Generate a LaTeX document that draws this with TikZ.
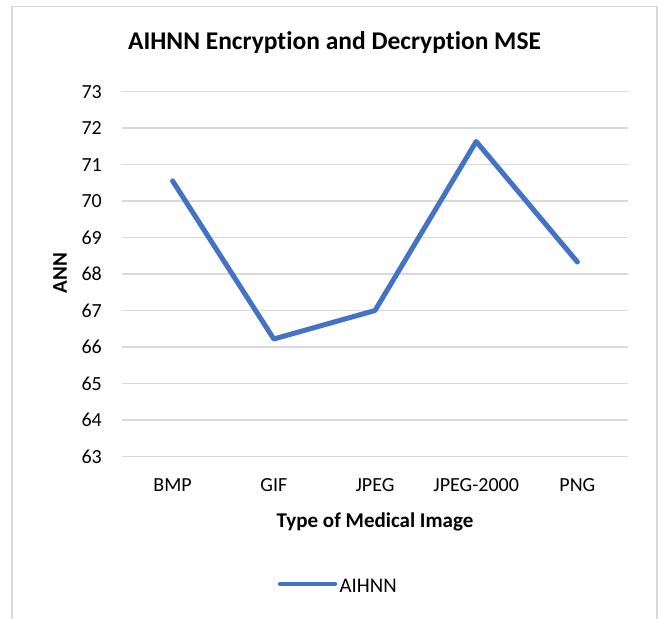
\documentclass[tikz,border=0pt]{standalone}
\usepackage{fontspec}
\setmainfont{Carlito}[Ligatures={NoCommon,NoRequired,NoContextual,NoRare},RawFeature={-liga;-clig;-dlig}]
\definecolor{serie}{HTML}{4472C4}
\definecolor{grid}{HTML}{D9D9D9}
\definecolor{txt}{HTML}{000000}
\tikzset{
  gridline/.style={draw=grid, line width=1.4pt},
  ticklab/.style={font=\fontsize{20}{24}\selectfont, text=txt, inner sep=0pt},
  axtitle/.style={font=\fontsize{21}{25}\selectfont\bfseries, text=txt, inner sep=0pt},
  charttitle/.style={font=\fontsize{25.5}{30}\selectfont\bfseries, text=txt, inner sep=0pt},
  serieline/.style={draw=serie, line width=5pt, line cap=round, line join=round},
  frameline/.style={draw=grid, line width=1.4pt}
}
\begin{document}
\begin{tikzpicture}[x=1pt, y=-1pt]
  \useasboundingbox (0,0) rectangle (658,618);
  \fill[white] (0,0) rectangle (658,618);
  % chart frame
  \draw[frameline] (12,625) -- (12,6.5) -- (657,6.5) -- (657,625);
  % title
  \node[charttitle, anchor=base] (title) at (334.5,50) {AIHNN Encryption and Decryption MSE};
  % gridlines and tick labels
  \foreach \v [count=\i from 0] in {63,64,65,66,67,68,69,70,71,72,73} {
    \pgfmathsetmacro{\yy}{456.5-36.5*\i}
    \coordinate (gl\v) at (122,\yy);
    \coordinate (gr\v) at (628,\yy);
    \draw[gridline] (gl\v) -- (gr\v);
    \node[ticklab, anchor=base east] (tick\v) at (102,\yy+6.8) {\v};
  }
  % category labels
  \foreach \n/\x/\lab in {c1/172.6/BMP, c2/273.8/GIF, c3/375/JPEG, c4/476.2/JPEG-2000, c5/577.4/PNG} {
    \node[ticklab, anchor=base] (\n) at (\x,491.5) {\lab};
  }
  % axis titles
  \node[axtitle, anchor=base] (xtitle) at (375,527) {Type of Medical Image};
  \node[axtitle, rotate=90, anchor=center] (ytitle) at (60,273) {ANN};
  % data
  \coordinate (p1) at (172.6,180.9);
  \coordinate (p2) at (273.8,339);
  \coordinate (p3) at (375,310.5);
  \coordinate (p4) at (476.2,141.5);
  \coordinate (p5) at (577.4,262);
  \draw[serieline] (p1) -- (p2) -- (p3) -- (p4) -- (p5);
  % legend
  \coordinate (la) at (280,584);
  \coordinate (lb) at (335,584);
  \draw[serieline, line width=4.5pt] (la) -- (lb);
  \node[ticklab, anchor=base west, font=\fontsize{20.8}{25}\selectfont] (legtext) at (339.5,592) {AIHNN};
\end{tikzpicture}
\end{document}
